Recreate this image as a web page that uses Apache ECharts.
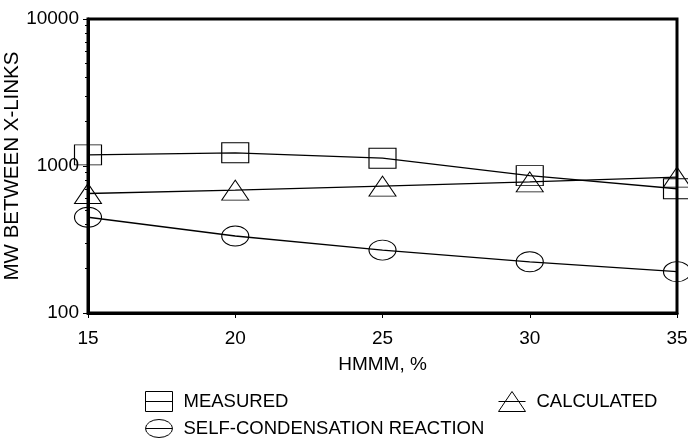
<!DOCTYPE html>
<html>
<head>
<meta charset="utf-8">
<script src="https://cdn.jsdelivr.net/npm/echarts@6/dist/echarts.min.js"></script>
<style>
html,body{margin:0;padding:0;background:#fff;}
#c{width:688px;height:439px;}
</style>
</head>
<body>
<div id="c"></div>
<script>
const hmmm = [15, 20, 25, 30, 35];
const measured = [1190, 1230, 1130, 860, 700];
const calculated = [650, 685, 730, 780, 840];
const selfCondensation = [448, 334, 268, 223, 191];
const xTicks = [15, 20, 25, 30, 35];
const yTicks = [100, 1000, 10000];

const FONT = '"Liberation Sans", Arial, sans-serif';
const chart = echarts.init(document.getElementById('c'), null, {renderer: 'canvas'});

function pairs(vals) { return hmmm.map((x, i) => [x, vals[i]]); }

const markerStyle = {color: 'rgba(0,0,0,0)', borderColor: '#000', borderWidth: 1};
function mkSeries(name, data, symbol) {
  return {
    name: name, type: 'line', data: pairs(data), symbol: symbol, symbolSize: [27, 20],
    lineStyle: {color: '#000', width: 1.3}, itemStyle: markerStyle, z: 3,
    emphasis: {disabled: true}, animation: false, clip: false
  };
}

const iconRect = 'path://M0,0H27V20H0ZM0,10H27';
const iconTri = 'path://M13.5,0L27,20H0ZM0,10H27';
const iconEll = 'path://M0,9A13.5,9 0 1,0 27,9A13.5,9 0 1,0 0,9ZM0,9H27';

function mkLegend(name, icon, left, top) {
  return {
    data: [{name: name, icon: icon}], left: left, top: top, itemWidth: 27, itemHeight: 20,
    itemStyle: {color: 'rgba(0,0,0,0)', borderColor: '#000', borderWidth: 1},
    textStyle: {fontFamily: FONT, fontSize: 18.5, color: '#000', padding: [0, 0, 0, 6]},
    selectedMode: false, padding: 0
  };
}

chart.setOption({
  animation: false,
  grid: {left: 88, right: 11, top: 19, bottom: 126, show: true, borderColor: '#000', borderWidth: 3,
    backgroundColor: 'transparent', containLabel: false, outerBoundsMode: 'none'},
  xAxis: {
    type: 'value', min: 15, max: 35, interval: 5,
    name: 'HMMM, %', nameLocation: 'middle', nameGap: 42, nameMoveOverlap: false,
    nameTextStyle: {fontFamily: FONT, fontSize: 19, color: '#000'},
    axisLine: {show: true, lineStyle: {color: '#000', width: 3}},
    axisTick: {show: true, length: 5, lineStyle: {color: '#000', width: 1}},
    axisLabel: {fontFamily: FONT, fontSize: 19, color: '#000', margin: 16,
      formatter: v => xTicks.includes(v) ? String(v) : ''},
    splitLine: {show: false}
  },
  yAxis: {
    type: 'log', logBase: 10, min: 100, max: 10000,
    name: 'MW BETWEEN X-LINKS', nameLocation: 'middle', nameGap: 65, nameMoveOverlap: false,
    nameTextStyle: {fontFamily: FONT, fontSize: 20.5, color: '#000'},
    axisLine: {show: true, lineStyle: {color: '#000', width: 3}},
    axisTick: {show: true, length: 5, lineStyle: {color: '#000', width: 1}},
    minorTick: {show: true, splitNumber: 9, length: 3, lineStyle: {color: '#000', width: 1}},
    axisLabel: {fontFamily: FONT, fontSize: 19, color: '#000', margin: 9,
      formatter: v => yTicks.includes(v) ? String(v) : ''},
    splitLine: {show: false}, minorSplitLine: {show: false}
  },
  legend: [
    mkLegend('MEASURED', iconRect, 145, 391),
    mkLegend('CALCULATED', iconTri, 498, 391),
    mkLegend('SELF-CONDENSATION REACTION', iconEll, 145, 419)
  ],
  series: [
    mkSeries('MEASURED', measured, 'rect'),
    mkSeries('CALCULATED', calculated, 'triangle'),
    mkSeries('SELF-CONDENSATION REACTION', selfCondensation, 'circle')
  ]
});
</script>
</body>
</html>
